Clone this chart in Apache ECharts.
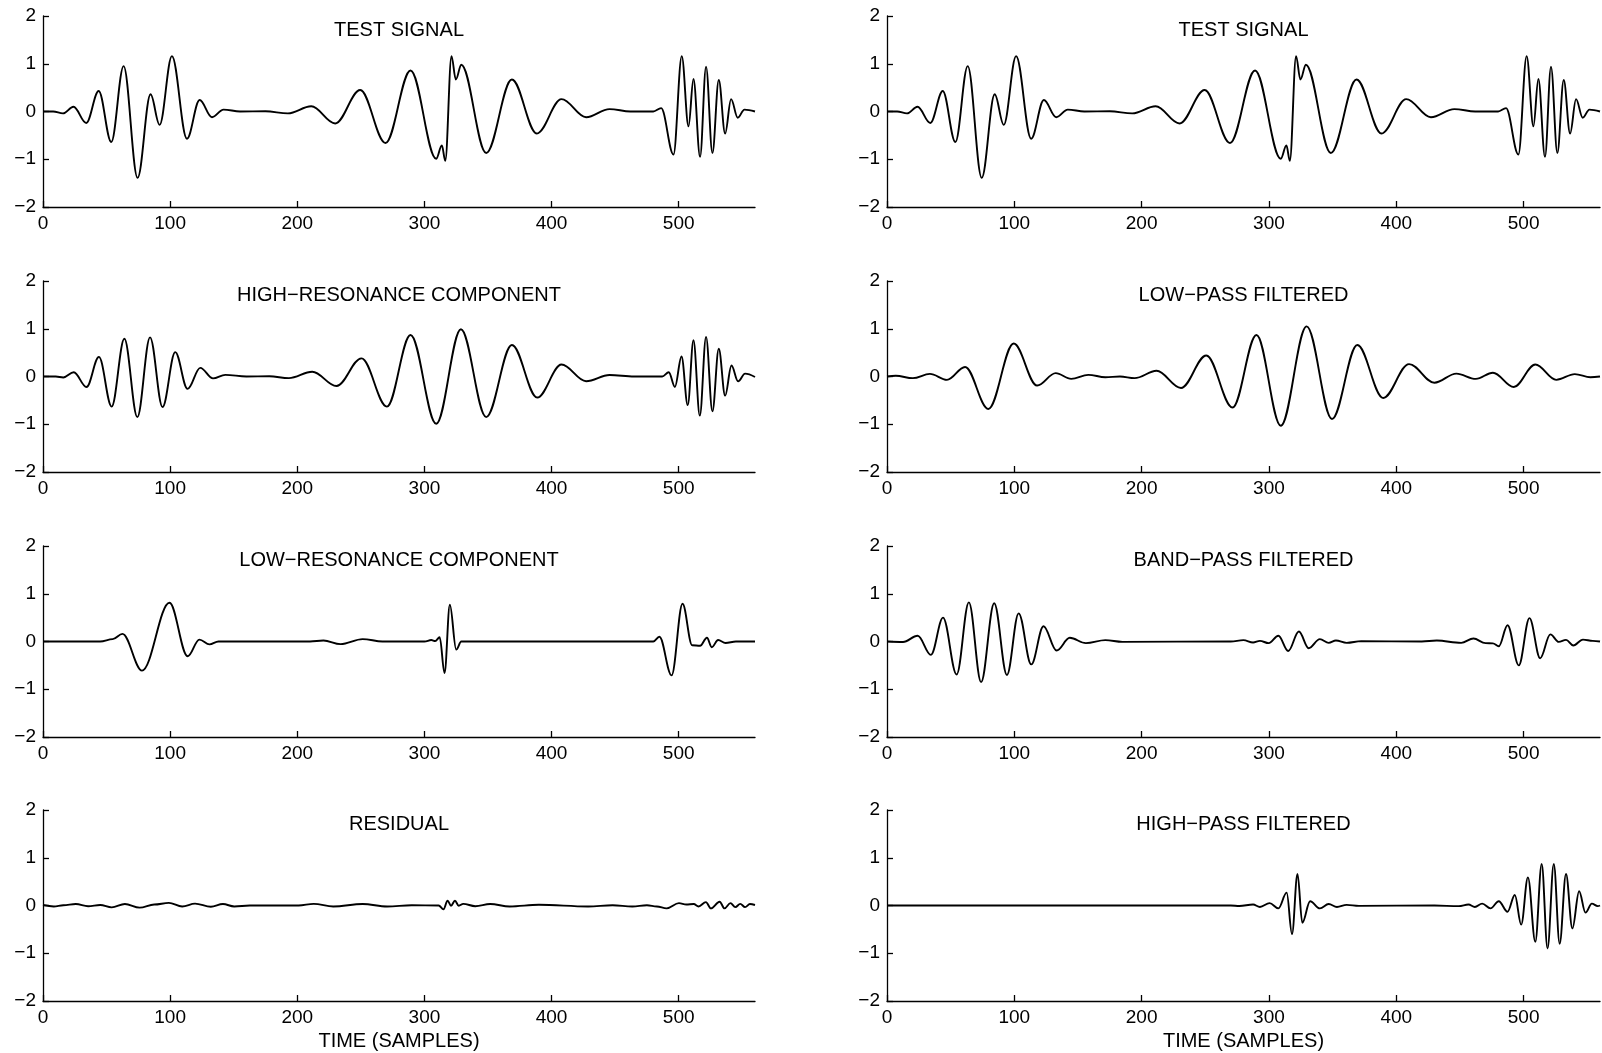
<!DOCTYPE html>
<html>
<head>
<meta charset="utf-8">
<script src="https://cdn.jsdelivr.net/npm/echarts@6/dist/echarts.min.js"></script>
<style>
html,body{margin:0;padding:0;background:#fff;}
#chart{width:1602px;height:1053px;}
</style>
</head>
<body>
<div id="chart"></div>
<script>
// ---- data (sample index, amplitude) at extrema ----
const xTicks = [0, 100, 200, 300, 400, 500];
const yTicks = [-2, -1, 0, 1, 2];

const testSignal = [
[0,0],[8,0],[15.7,-0.04],[24,0.1],[34,-0.24],[43.8,0.43],[53.7,-0.64],[63.4,0.95],[74.4,-1.39],[84.6,0.36],[91.7,-0.28],[101.4,1.16],[113.2,-0.57],[123.2,0.24],[132.9,-0.12],[142,0.04],[155,0],[175,0.005],[192.6,-0.04],[211,0.11],[229.8,-0.25],[249.5,0.45],[269.4,-0.66],[289.1,0.86],[309.3,-0.99],[313.7,-0.71],[316.4,-1.03],[321.3,1.16],[324.7,0.67],[329,0.98],[348.6,-0.87],[368.8,0.67],[388.4,-0.46],[407.8,0.26],[427.2,-0.12],[445.6,0.05],[462,0],[480,0],[486.2,0.07],[495.9,-0.9],[502.4,1.16],[507.7,-0.31],[511.6,0.68],[516.8,-0.95],[521.5,0.94],[526.5,-0.87],[531.5,0.66],[536.5,-0.46],[541.2,0.26],[546.4,-0.13],[551.7,0.04],[560,0]
];

const highRes = [
[0,0],[10,0],[16,-0.02],[24.2,0.09],[34.2,-0.22],[44,0.41],[54,-0.63],[64,0.79],[74.2,-0.85],[84.2,0.82],[94,-0.64],[104,0.51],[113.7,-0.26],[123.7,0.18],[133.7,-0.04],[143.4,0.035],[160,0],[178,0.005],[193.4,-0.035],[211.8,0.1],[230.8,-0.2],[250.5,0.38],[270.5,-0.63],[289.1,0.87],[309.3,-0.99],[328.7,0.99],[348.6,-0.85],[368.8,0.66],[388.7,-0.44],[407.8,0.25],[427.2,-0.1],[445.6,0.03],[465,0],[487,0],[492.2,0.09],[497,-0.22],[502.2,0.42],[507.1,-0.6],[511.6,0.76],[516.6,-0.82],[521.5,0.83],[526.5,-0.73],[531.5,0.58],[536.5,-0.4],[541.5,0.23],[546.7,-0.1],[552.2,0.06],[560,-0.01]
];

const lowRes = [
[0,0],[45,0],[54.8,0.05],[62.5,0.16],[77.9,-0.61],[99.5,0.81],[113.8,-0.31],[123,0.04],[131,-0.06],[138,0],[210,0],[220.6,0.02],[234,-0.055],[251.4,0.05],[267,0],[300,0],[305.4,0.03],[308.5,0.01],[312,0.09],[315.8,-0.66],[320,0.77],[325,-0.17],[329,0],[480,0],[484.8,0.1],[494.4,-0.71],[503,0.79],[510.6,-0.08],[516.8,-0.09],[522.2,0.08],[526,-0.12],[531,0.03],[536.8,-0.03],[545,0],[560,0]
];

const residual = [
[0,0.01],[8.5,-0.02],[16,0.005],[25.8,0.03],[35.5,-0.015],[45,0.01],[54,-0.04],[64.4,0.03],[76,-0.045],[87.5,0.02],[99,0.055],[109.5,-0.02],[119.6,0.04],[132,-0.025],[141.5,0.03],[150.4,-0.02],[162.7,0],[201,0],[212.9,0.035],[228.3,-0.02],[251.4,0.03],[270.7,-0.02],[290,0.005],[311.2,0],[315,-0.08],[318.2,0.1],[320.9,-0.005],[324,0.1],[327,-0.005],[330.5,0.035],[340,-0.015],[351.7,0.03],[367,-0.02],[390,0.015],[428.8,-0.02],[448,0.005],[463.5,-0.02],[475,0.005],[482.8,-0.02],[490.5,-0.06],[500.2,0.05],[506,0.02],[511.8,0.03],[515.6,-0.02],[521.4,0.07],[525.3,-0.06],[532.2,0.08],[536,-0.06],[540.7,0.05],[544.5,-0.035],[548.4,0.035],[552.2,-0.035],[556,0.03],[560,0.01]
];

const lowPass = [
[0,0],[6.9,0.015],[20.3,-0.035],[33.7,0.055],[47.1,-0.07],[61.3,0.2],[79.6,-0.68],[99.5,0.69],[117.9,-0.19],[132.5,0.07],[144.7,-0.05],[158.1,0.035],[171.5,-0.015],[183,0],[194.5,-0.035],[211.7,0.12],[230.9,-0.24],[250.8,0.44],[271.4,-0.65],[290.2,0.87],[309.3,-1.03],[329.6,1.05],[349.5,-0.89],[369.4,0.66],[389.7,-0.45],[410,0.26],[429.9,-0.13],[447.2,0.06],[462.5,-0.05],[475.9,0.08],[492.3,-0.22],[509.2,0.25],[525.6,-0.07],[540.2,0.05],[552.5,-0.015],[560,0]
];

const bandPass = [
[0,0],[12.6,-0.01],[24.1,0.12],[34.5,-0.28],[44,0.5],[54.7,-0.69],[64.3,0.82],[73.9,-0.85],[84.2,0.8],[94.2,-0.7],[103.4,0.59],[113.3,-0.48],[122.9,0.32],[133.2,-0.19],[143.6,0.077],[156.2,-0.035],[171.5,0.028],[184.9,-0.007],[270,0],[279.9,0.028],[287.5,-0.02],[292.9,0.014],[299.8,-0.035],[307.4,0.12],[315.1,-0.2],[323.5,0.21],[331.2,-0.14],[340,0.05],[346.9,-0.028],[352.6,0.02],[361,-0.028],[372.5,0.007],[420,0],[431.8,0.02],[451,-0.028],[460.6,0.063],[470.1,-0.035],[475.9,-0.04],[480.5,-0.1],[487.4,0.34],[496.2,-0.5],[504.6,0.49],[513,-0.35],[521,0.15],[527.6,-0.007],[533.3,0.035],[539,-0.084],[546.6,0.04],[554.3,0.014],[560,0]
];

const highPass = [
[0,0],[270,0],[276.8,-0.01],[287.5,0.02],[292.9,-0.03],[300.5,0.05],[307.4,-0.06],[313.9,0.27],[318.1,-0.6],[322.4,0.66],[326.2,-0.36],[332.3,0.09],[340,-0.06],[346.9,0.03],[353.4,-0.03],[361,0.014],[370.6,-0.007],[430,0],[449.1,-0.014],[456.7,0.02],[461.7,-0.03],[467.5,0.04],[474,-0.06],[480.5,0.09],[487.4,-0.13],[493.1,0.22],[498.1,-0.4],[503.4,0.59],[509.2,-0.76],[514.2,0.87],[518.8,-0.9],[523.7,0.87],[528.3,-0.8],[533.3,0.66],[538.3,-0.48],[543.6,0.3],[548.6,-0.15],[553.6,0.04],[558.2,-0.014],[560,0]
];

const panels = [
  {title: 'TEST SIGNAL', data: testSignal, col: 0, row: 0},
  {title: 'HIGH\u2212RESONANCE COMPONENT', data: highRes, col: 0, row: 1},
  {title: 'LOW\u2212RESONANCE COMPONENT', data: lowRes, col: 0, row: 2},
  {title: 'RESIDUAL', data: residual, col: 0, row: 3},
  {title: 'TEST SIGNAL', data: testSignal, col: 1, row: 0},
  {title: 'LOW\u2212PASS FILTERED', data: lowPass, col: 1, row: 1},
  {title: 'BAND\u2212PASS FILTERED', data: bandPass, col: 1, row: 2},
  {title: 'HIGH\u2212PASS FILTERED', data: highPass, col: 1, row: 3}
];
const xLabel = 'TIME (SAMPLES)';

// ---- layout ----
const FONT = '"Liberation Sans", Arial, Helvetica, sans-serif';
const colLeft = [43, 887];
const colWidth = [712, 713];
const rowTop = [16, 281, 546, 810];
const rowHeight = 191;

const grids = [], xAxes = [], yAxes = [], series = [], graphics = [];
panels.forEach((p, i) => {
  grids.push({left: colLeft[p.col], top: rowTop[p.row], width: colWidth[p.col], height: rowHeight,
    containLabel: false, outerBoundsMode: 'none'});
  const isBottom = p.row === 3;
  xAxes.push({
    gridIndex: i, type: 'value', min: 0, max: 560, interval: 100,
    name: isBottom ? xLabel : '', nameLocation: 'middle', nameGap: 30,
    nameTextStyle: {color: '#000', fontSize: 20, fontFamily: FONT},
    axisLine: {onZero: false, lineStyle: {color: '#000', width: 1.3}},
    axisTick: {inside: true, length: 6, customValues: xTicks, lineStyle: {color: '#000', width: 1.3}},
    axisLabel: {customValues: xTicks, margin: 7, color: '#000', fontSize: 19, fontFamily: FONT},
    splitLine: {show: false}
  });
  yAxes.push({
    gridIndex: i, type: 'value', min: -2, max: 2, interval: 1,
    axisLine: {show: true, onZero: false, lineStyle: {color: '#000', width: 1.3}},
    axisTick: {show: true, inside: true, length: 6, customValues: yTicks, lineStyle: {color: '#000', width: 1.3}},
    axisLabel: {customValues: yTicks, margin: 7, color: '#000', fontSize: 19, fontFamily: FONT,
      formatter: v => String(v).replace('-', '\u2212')},
    splitLine: {show: false}
  });
  series.push({
    type: 'line', xAxisIndex: i, yAxisIndex: i, data: p.data,
    smooth: 0.36, smoothMonotone: 'x', showSymbol: false, symbol: 'none',
    lineStyle: {color: '#000', width: 1.9}, silent: true, clip: false
  });
  graphics.push({
    type: 'text', x: colLeft[p.col] + colWidth[p.col] / 2, y: rowTop[p.row] + 14.5,
    style: {text: p.title, fill: '#000', fontSize: 20, fontFamily: FONT, align: 'center', verticalAlign: 'middle'}
  });
});

const chart = echarts.init(document.getElementById('chart'), null, {renderer: 'canvas'});
chart.setOption({
  animation: false,
  backgroundColor: '#fff',
  grid: grids, xAxis: xAxes, yAxis: yAxes, series: series,
  graphic: graphics
});
</script>
</body>
</html>
